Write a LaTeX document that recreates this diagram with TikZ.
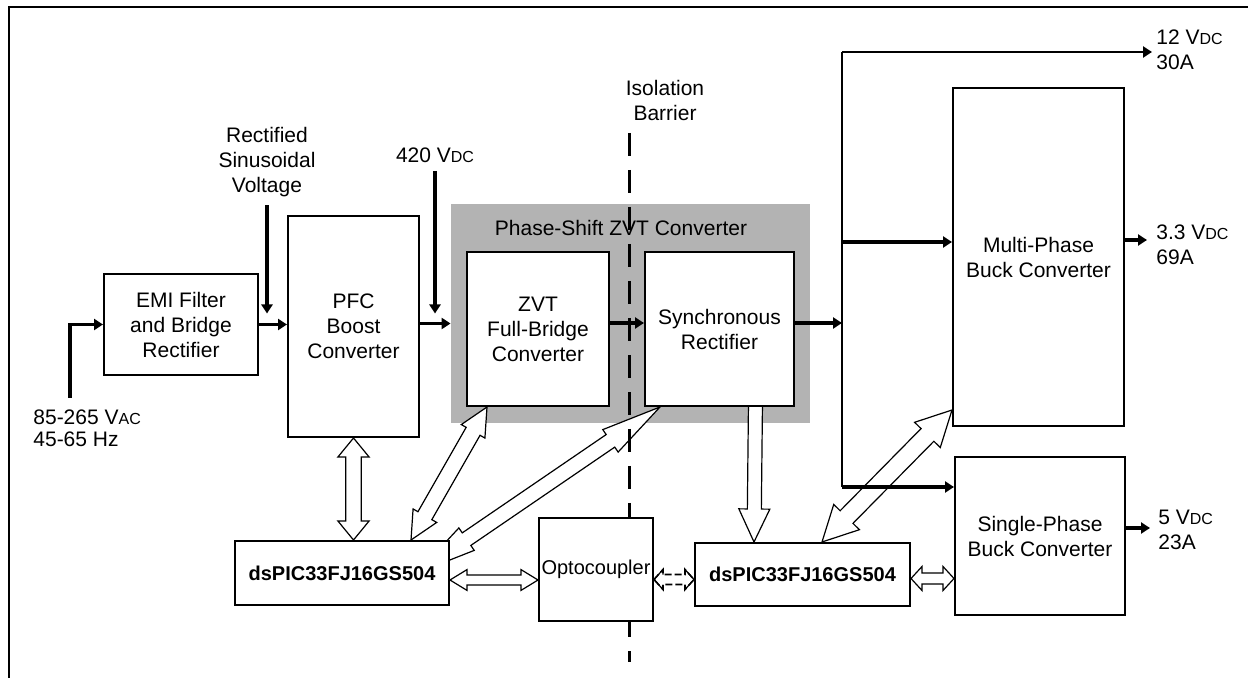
\documentclass[tikz,border=0pt]{standalone}
\usepackage{fontspec}
\setmainfont{Liberation Sans}
\usetikzlibrary{arrows.meta,calc}
\pgfdeclarelayer{back}
\pgfdeclarelayer{mid}
\pgfsetlayers{back,mid,main}
\definecolor{shade}{HTML}{B3B3B3}
\newcommand{\vdc}{V{\fontsize{8}{9}\selectfont DC}}
\newcommand{\vac}{V{\fontsize{8}{9}\selectfont AC}}
% hollow block arrow, both ends: [style]{from}{to}{head length}{head half}{shaft half}
\newcommand{\dblarrow}[6][]{%
  \draw[hollow,#1] (#2)
    -- ($(#2)!#4!(#3)!#5!90:(#3)$)
    -- ($(#2)!#4!(#3)!#6!90:(#3)$)
    -- ($(#3)!#4!(#2)!#6!-90:(#2)$)
    -- ($(#3)!#4!(#2)!#5!-90:(#2)$)
    -- (#3)
    -- ($(#3)!#4!(#2)!#5!90:(#2)$)
    -- ($(#3)!#4!(#2)!#6!90:(#2)$)
    -- ($(#2)!#4!(#3)!#6!-90:(#3)$)
    -- ($(#2)!#4!(#3)!#5!-90:(#3)$)
    -- cycle;}
% head outline only: {tip}{other end}{head length}{head half}{shaft half}
\newcommand{\headonly}[5]{%
  \draw[hollow, fill=none] ($(#1)!#3!(#2)!#5!90:(#2)$)
    -- ($(#1)!#3!(#2)!#4!90:(#2)$) -- (#1)
    -- ($(#1)!#3!(#2)!#4!-90:(#2)$)
    -- ($(#1)!#3!(#2)!#5!-90:(#2)$);}
% hollow block arrow, head at the far end only
\newcommand{\onearrow}[6][]{%
  \draw[hollow,#1] ($(#2)!#6!90:(#3)$)
    -- ($(#3)!#4!(#2)!#6!-90:(#2)$)
    -- ($(#3)!#4!(#2)!#5!-90:(#2)$)
    -- (#3)
    -- ($(#3)!#4!(#2)!#5!90:(#2)$)
    -- ($(#3)!#4!(#2)!#6!90:(#2)$)
    -- ($(#2)!#6!-90:(#3)$)
    -- cycle;}
\tikzset{
    blk/.style={draw, line width=1pt, fill=white, inner sep=1pt, align=center},
    ctrl/.style={blk, font=\fontsize{10}{12}\selectfont\bfseries},
    pwr/.style={-{Triangle[length=4.5pt,width=5.5pt]}, line width=1.7pt},
    bus/.style={line width=1.3pt},
    hollow/.style={line width=0.6pt, fill=white, line join=miter},
    barrier/.style={line width=1.5pt, dash pattern=on 11.5pt off 7pt},
    lbl/.style={align=center, inner sep=0pt},
    outlbl/.style={align=left, anchor=west, inner sep=0pt},
}

\begin{document}
\begin{tikzpicture}[x=0.5pt, y=-0.5pt, font=\fontsize{10.5}{12.5}\selectfont]
    \path[use as bounding box] (0,0) rectangle (1248,678);
    \draw[line width=1.3pt] (9,700) -- (9,7) -- (1270,7);

    \begin{pgfonlayer}{back}
    \node[fill=shade, inner sep=0, minimum width=179.5pt, minimum height=109.5pt]
        (pszvt) at (630.5,313.5) {};
    \end{pgfonlayer}

    % blocks
    \node[blk, minimum width=77pt, minimum height=50.5pt]
        (emi) at (181,324.5) {EMI Filter\\and Bridge\\Rectifier};
    \node[blk, minimum width=65.5pt, minimum height=110.5pt]
        (pfc) at (353.5,326.5) {PFC\\Boost\\Converter};
    \node[lbl] (pstitle) at (621,228) {Phase-Shift ZVT Converter};
    \node[blk, minimum width=71pt, minimum height=77pt]
        (zvt) at (538,329) {ZVT\\Full-Bridge\\Converter};
    \node[blk, minimum width=74.5pt, minimum height=77pt]
        (sync) at (719.5,329) {Synchronous\\Rectifier};
    \node[blk, minimum width=85.5pt, minimum height=169pt]
        (multi) at (1038.5,257) {Multi-Phase\\Buck Converter};
    \node[blk, minimum width=85pt, minimum height=79pt]
        (single) at (1040,536) {Single-Phase\\Buck Converter};
    \node[ctrl, minimum width=107pt, minimum height=32pt]
        (dspicL) at (342,573) {dsPIC33FJ16GS504};
    \node[ctrl, minimum width=107.5pt, minimum height=31.5pt]
        (dspicR) at (802.5,574.5) {dsPIC33FJ16GS504};
    \node[blk, minimum width=57pt, minimum height=51.5pt, font=\fontsize{10}{12}\selectfont]
        (opto) at (596,569.5) {Optocoupler};

    % labels
    \node[lbl] (rectlbl) at (267,162) {Rectified\\Sinusoidal\\Voltage};
    \node[lbl] (hvlbl) at (435,155) {420 \vdc};
    \node[lbl] (isolbl) at (665,100) {Isolation\\Barrier};
    \node[outlbl, font=\fontsize{10.5}{11}\selectfont] (aclbl) at (33,428) {85-265 \vac\\45-65 Hz};
    \node[outlbl] (out12) at (1156,50) {12 \vdc\\30A};
    \node[outlbl] (out33) at (1156,245) {3.3 \vdc\\69A};
    \node[outlbl] (out5) at (1158,530) {5 \vdc\\23A};

    \coordinate (acin) at (70,398);
    \coordinate (bustop) at (842,52);
    \coordinate (busmid) at (842,323);
    \coordinate (busbot) at (842,487);
    \coordinate (barTop) at (629,133);
    \coordinate (barBot) at (629,662);
    \coordinate (mIn) at ($(multi.west)+(0,-15)$);
    \coordinate (mOut) at ($(multi.east)+(0,-17)$);
    \coordinate (sOut) at ($(single.east)+(0,-8)$);

    % power path
    \draw[pwr] (acin) |- (emi.west);
    \draw[pwr] (emi.east) -- (emi.east -| pfc.west);
    \draw[pwr, shorten <=4pt] (rectlbl.south) -- ($(rectlbl.south |- emi.west)+(0,-11)$);
    \draw[pwr, shorten <=4pt] (hvlbl.south) -- ($(hvlbl.south |- pfc.east)+(0,-13)$);
    \draw[pwr] ($(pfc.east)+(0,-3)$) -- ($(pfc.east -| pszvt.west)+(0,-3)$);
    \draw[pwr] ($(zvt.east)+(0,-6)$) -- ($(sync.west)+(0,-6)$);
    \draw[pwr] (sync.east |- busmid) -- (busmid);
    \draw[bus] (busbot) -- (bustop);
    \draw[pwr, line width=1.4pt, shorten >=2pt] (bustop) -- (bustop -| out12.west);
    \draw[pwr] (mIn -| bustop) -- (mIn);
    \draw[pwr] (busbot) -- (busbot -| single.west);
    \draw[pwr, shorten >=4.5pt] (mOut) -- (mOut -| out33.west);
    \draw[pwr, shorten >=4pt] (sOut) -- (sOut -| out5.west);

    % control links
    \coordinate (h1a) at (pfc.south);
    \coordinate (h1b) at (pfc.south |- dspicL.north);
    \coordinate (h2a) at ($(zvt.south west)+(21,0)$);
    \coordinate (h2b) at ($(dspicL.north west)+(177,0)$);
    \coordinate (h3a) at ($(sync.south west)+(16,0)$);
    \coordinate (h3b) at ($(dspicL.east)+(-33,0)$);
    \coordinate (h4a) at ($(dspicR.north west)+(128,0)$);
    \coordinate (h4b) at ($(multi.south west)+(0,-17)$);
    \coordinate (h5a) at ($(dspicL.east)+(0,7)$);
    \coordinate (h5b) at (h5a -| opto.west);
    \coordinate (h6a) at ($(opto.east)+(0,10)$);
    \coordinate (h6b) at (h6a -| dspicR.west);
    \coordinate (h7a) at ($(dspicR.east)+(0,4)$);
    \coordinate (h7b) at (h7a -| single.west);
    \coordinate (h8a) at ($(sync.south)+(36,-6)$);
    \coordinate (h8b) at ($(dspicR.north west)+(60,0)$);

    \begin{pgfonlayer}{mid}
    \dblarrow{h1a}{h1b}{9.5pt}{7.8pt}{3.9pt}
    \dblarrow{h2a}{h2b}{14pt}{6.8pt}{4pt}
    \dblarrow{h3a}{h3b}{30pt}{6.8pt}{3.8pt}
    \dblarrow{h4a}{h4b}{17.5pt}{9pt}{4.5pt}
    \dblarrow{h5a}{h5b}{8.5pt}{5.2pt}{2.5pt}
    \dblarrow[line width=0.8pt, dash pattern=on 3.5pt off 1.5pt]{h6a}{h6b}{4.5pt}{5pt}{2.5pt}
    \headonly{h6a}{h6b}{4.5pt}{5pt}{2.5pt}
    \headonly{h6b}{h6a}{4.5pt}{5pt}{2.5pt}
    \dblarrow{h7a}{h7b}{5.5pt}{6pt}{2.75pt}
    \onearrow{h8a}{h8b}{16.5pt}{7.75pt}{3.5pt}
    \draw[barrier] (barTop) -- (barBot);
    \end{pgfonlayer}
\end{tikzpicture}
\end{document}
